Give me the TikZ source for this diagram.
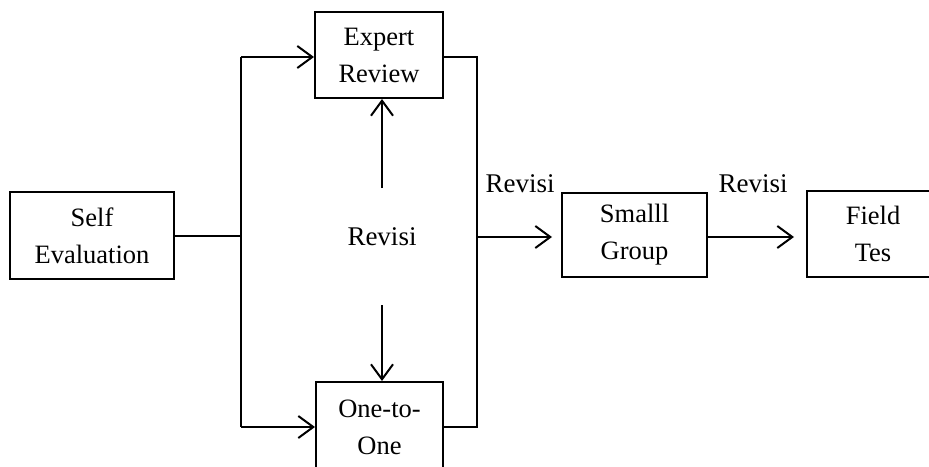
\documentclass[tikz,border=0pt]{standalone}
\usepackage{fontspec}
\setmainfont{Liberation Serif}
\usepackage{tikz}
\usetikzlibrary{arrows.meta,positioning,calc}

\tikzset{
  stagebox/.style={draw,line width=2pt,inner sep=0pt,align=center,
    font=\fontsize{26.5}{37}\selectfont},
  revlabel/.style={inner sep=0pt,font=\fontsize{27}{30}\selectfont},
  flow/.style={line width=2pt},
  flowarr/.style={flow,-{Straight Barb[length=15pt,width=22pt,line width=2pt]}}
}

\begin{document}
\begin{tikzpicture}[x=1pt,y=-1pt]
  \clip (0,0) rectangle (929,466);
  % stages
  \node[stagebox,minimum width=164pt,minimum height=87pt] (self) at (92,235.5) {Self\\Evaluation};
  \node[stagebox,minimum width=128pt,minimum height=86pt] (expert) at (379,55) {Expert\\Review};
  \node[stagebox,minimum width=127pt,minimum height=90pt] (one) at (379.5,427) {One-to-\\One};
  \node[stagebox,minimum width=145pt,minimum height=84pt] (small) at (634.5,235) {Smalll\\Group};
  \node[stagebox,minimum width=132pt,minimum height=86pt] (field) at (873,234) {Field\\Tes};
  % labels
  \node[revlabel] (revmid) at (382,237) {Revisi};
  \node[revlabel] (revone) at (520,184) {Revisi};
  \node[revlabel] (revtwo) at (753,184) {Revisi};
  % junctions
  \coordinate (jleft) at (241,236);
  \coordinate (jlt) at (241,57);
  \coordinate (jlb) at (241,427);
  \coordinate (jrt) at (477,57);
  \coordinate (jrb) at (477,427);
  \coordinate (jright) at (477,237);
  \coordinate (upfrom) at (382,188);
  \coordinate (downfrom) at (382,305);
  % connectors
  \draw[flow] (self.east |- jleft) -- (jleft);
  \draw[flow] (jlt) -- (jlb);
  \draw[flowarr] (jlt) -- (jlt -| expert.west);
  \draw[flowarr] (jlb) -- (jlb -| one.west);
  \draw[flow] (jrt -| expert.east) -- (jrt) -- (jrb) -- (jrb -| one.east);
  \draw[flowarr] (upfrom) -- (upfrom |- expert.south);
  \draw[flowarr] (downfrom) -- (downfrom |- one.north);
  \draw[flowarr,shorten >=9pt] (jright) -- (jright -| small.west);
  \draw[flowarr,shorten >=12pt] (small.east |- jright) -- (jright -| field.west);
\end{tikzpicture}
\end{document}
